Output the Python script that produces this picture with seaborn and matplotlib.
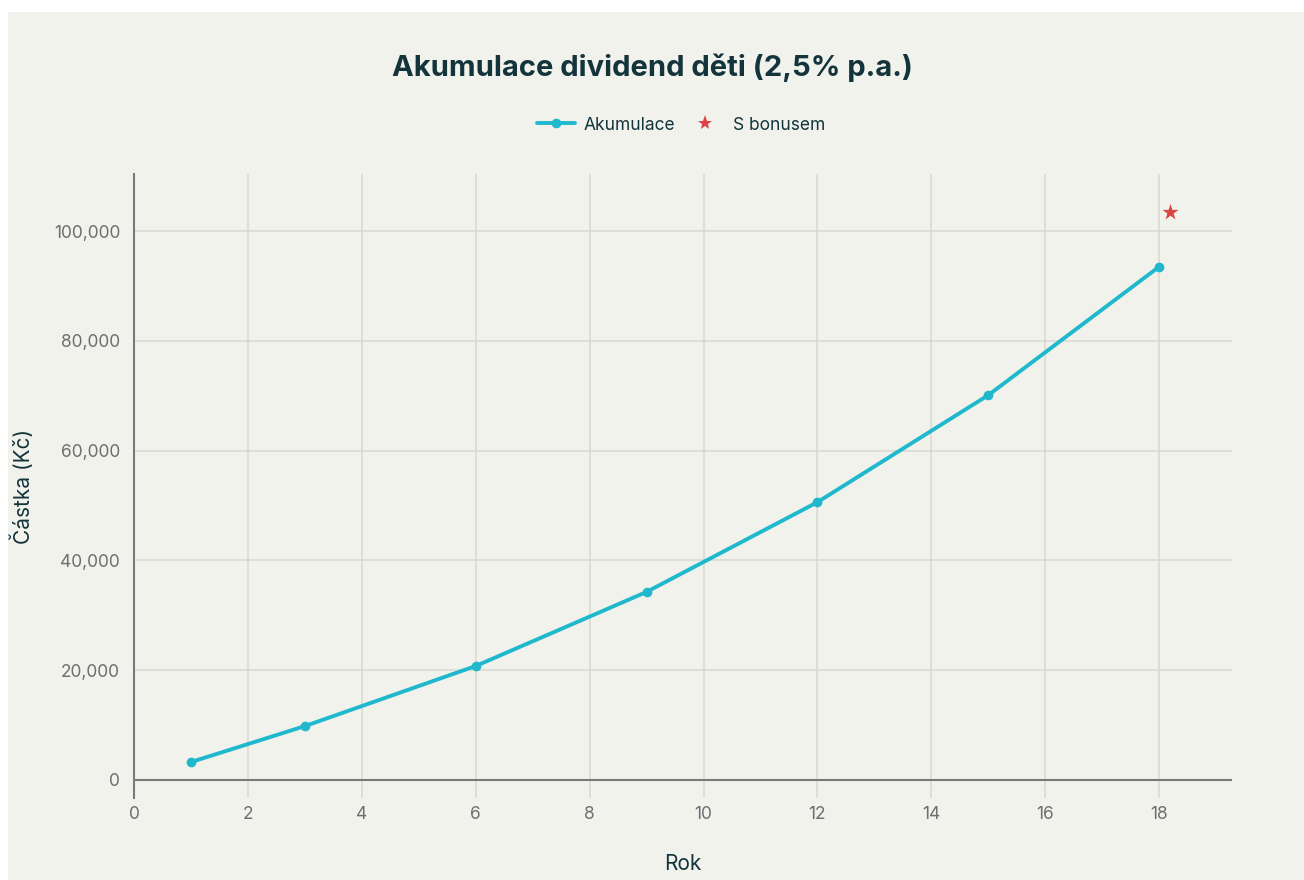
import matplotlib
matplotlib.use("Agg")
import matplotlib.pyplot as plt
import matplotlib.patches as mpatches
from matplotlib.lines import Line2D
from matplotlib.ticker import FuncFormatter
import seaborn as sns
import pandas as pd

years = [1, 3, 6, 9, 12, 15, 18]
amounts = [3250, 9800, 20750, 34250, 50600, 70100, 93500]
bonus_year = [18.2]
bonus_amount = [103500]

title = "Akumulace dividend děti (2,5% p.a.)"
series_name = "Akumulace"
bonus_name = "S bonusem"
xlabel = "Rok"
ylabel = "Částka (Kč)"

sns.set_theme(style="white")
plt.rcParams['font.family'] = ['Inter', 'DejaVu Sans']

BG = "#F2F2ED"
LINE = "#1FB8CD"
RED = "#DB4545"
DARK = "#13343B"
TICK = "#6b6f70"

fig = plt.figure(figsize=(13.04, 8.8), dpi=100)
fig.patch.set_facecolor("white")
fig.patches.append(mpatches.Rectangle((8/1304, 0), 1 - 8/1304, 1 - 12/880,
                                      transform=fig.transFigure, facecolor=BG,
                                      edgecolor="none", zorder=-10))
ax = fig.add_axes([134/1304, 1 - 798/880, (1232 - 134)/1304, (798 - 174)/880])
ax.set_facecolor(BG)

df = pd.DataFrame({"Rok": years, "Castka": amounts})
sns.lineplot(data=df, x="Rok", y="Castka", ax=ax, color=LINE, linewidth=2.8,
             marker="o", markersize=7, markeredgewidth=0, zorder=5)
bdf = pd.DataFrame({"Rok": bonus_year, "Castka": bonus_amount})
sns.scatterplot(data=bdf, x="Rok", y="Castka", ax=ax, color=RED, marker="*",
                s=150, linewidth=0, zorder=6)

ax.set_xlim(0, 19.28)
ax.set_ylim(-3300, 110400)
ax.set_xticks(range(0, 19, 2))
ax.set_yticks(range(0, 100001, 20000))
ax.yaxis.set_major_formatter(FuncFormatter(lambda v, p: f"{int(v):,}"))

ax.grid(True, color="#d8d8d3", linewidth=1.1)
ax.set_axisbelow(True)
for s in ["top", "right", "bottom"]:
    ax.spines[s].set_visible(False)
ax.spines["left"].set_color("#7a7a7a")
ax.spines["left"].set_linewidth(1.5)
ax.axhline(0, color="#7a7a7a", linewidth=1.5, zorder=3)

ax.tick_params(axis="both", colors=TICK, labelsize=12.5, length=0, pad=6)
ax.tick_params(axis="y", length=6, color="#d8d8d3", width=1, pad=4)
ax.set_xlabel(xlabel, fontsize=15, color=DARK, labelpad=22)
ax.set_ylabel(ylabel, fontsize=15, color=DARK, labelpad=14)

fig.text(0.5, 1 - 68/880, title, ha="center", va="center", fontsize=21,
         fontweight="bold", color=DARK)

handles = [Line2D([0], [0], color=LINE, linewidth=2.8, marker="o", markersize=7,
                  markeredgewidth=0),
           Line2D([0], [0], color=RED, linewidth=0, marker="*", markersize=11,
                  markeredgewidth=0)]
fig.legend(handles, [series_name, bonus_name], loc="center",
           bbox_to_anchor=(681/1304, 1 - 125/880), ncol=2, frameon=False,
           fontsize=12.5, labelcolor=DARK, handlelength=2.2, columnspacing=0.6,
           handletextpad=0.5)

fig.savefig("out.png", dpi=100, facecolor="white")
